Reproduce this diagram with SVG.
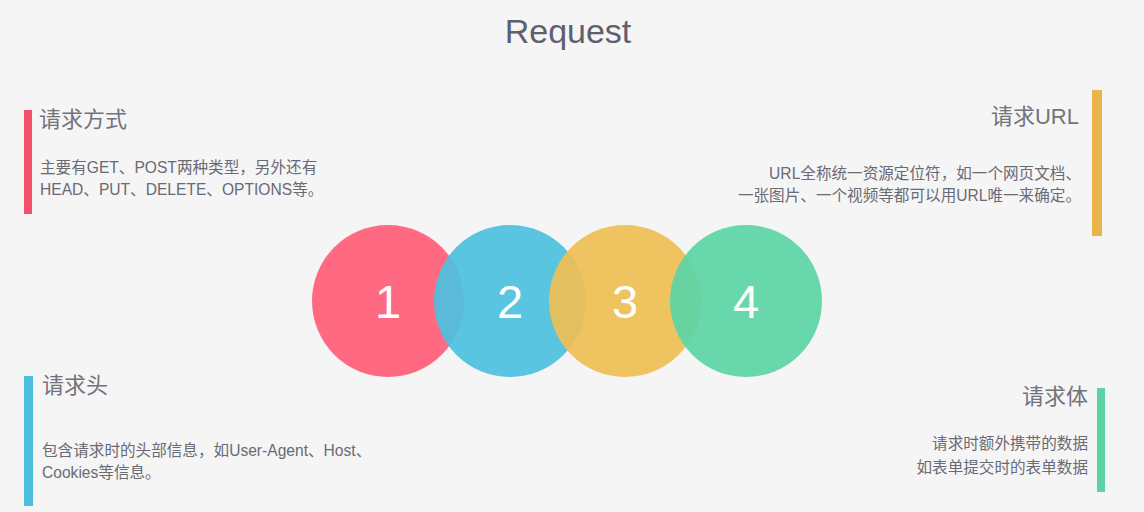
<svg xmlns="http://www.w3.org/2000/svg" width="1144" height="512" viewBox="0 0 1144 512">
<style>
text{font-family:"Liberation Sans","Noto Sans CJK SC",sans-serif;fill:#6a6a74}
.h{font-size:22px;fill:#72727c}
.b{font-size:15.6px}
.r{text-anchor:end}
.n{font-size:47px;fill:#fff;text-anchor:middle}
.c{opacity:0.93}
</style>
<rect width="1144" height="512" fill="#f5f5f6"/>
<text x="568" y="43" font-size="34" text-anchor="middle" style="fill:#5f5f6e">Request</text>
<g id="circles">
<g id="c1"><circle class="c" cx="388" cy="301" r="76" fill="#ff5f78"/><text class="n" x="388" y="318">1</text></g>
<g id="c2"><circle class="c" cx="510" cy="301" r="76" fill="#4ec1de"/><text class="n" x="510" y="318">2</text></g>
<g id="c3"><circle class="c" cx="625" cy="301" r="76" fill="#efbe55"/><text class="n" x="625" y="318">3</text></g>
<g id="c4"><circle class="c" cx="746" cy="301" r="76" fill="#5cd4a6"/><text class="n" x="746" y="318">4</text></g>
</g>
<g id="method">
<rect x="24" y="110" width="8" height="104" fill="#f5506a"/>
<text class="h" x="39" y="127">请求方式</text>
<text class="b" x="40" y="173">主要有GET、POST两种类型，另外还有</text>
<text class="b" x="40" y="195">HEAD、PUT、DELETE、OPTIONS等。</text>
</g>
<g id="url">
<rect x="1092" y="90" width="10" height="146" fill="#ebb54c"/>
<text class="h r" x="1079" y="124">请求URL</text>
<text class="b r" x="1081" y="179">URL全称统一资源定位符，如一个网页文档、</text>
<text class="b r" x="1081" y="201">一张图片、一个视频等都可以用URL唯一来确定。</text>
</g>
<g id="header">
<rect x="24" y="376" width="9" height="130" fill="#4cbfdc"/>
<text class="h" x="42" y="393">请求头</text>
<text class="b" x="42" y="456">包含请求时的头部信息，如User-Agent、Host、</text>
<text class="b" x="42" y="478">Cookies等信息。</text>
</g>
<g id="body">
<rect x="1097" y="388" width="8" height="104" fill="#5cd3a5"/>
<text class="h r" x="1088" y="404">请求体</text>
<text class="b r" x="1088" y="449">请求时额外携带的数据</text>
<text class="b r" x="1088" y="473">如表单提交时的表单数据</text>
</g>
<g id="connectors"></g>
</svg>
